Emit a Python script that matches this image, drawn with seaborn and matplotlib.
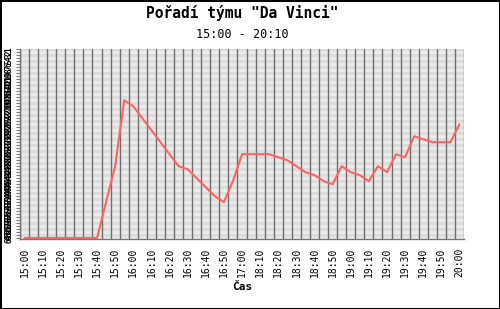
import numpy as np
import pandas as pd
import matplotlib
matplotlib.use("Agg")
import matplotlib.pyplot as plt
import seaborn as sns
from matplotlib.patches import Rectangle

# ---- data ----
times = ["15:00", "15:05", "15:10", "15:15", "15:20", "15:25", "15:30", "15:35",
         "15:40", "15:45", "15:50", "15:55", "16:00", "16:05", "16:10", "16:15",
         "16:20", "16:25", "16:30", "16:35", "16:40", "16:45", "16:50", "16:55",
         "17:00", "18:05", "18:10", "18:15", "18:20", "18:25", "18:30", "18:35",
         "18:40", "18:45", "18:50", "18:55", "19:00", "19:05", "19:10", "19:15",
         "19:20", "19:25", "19:30", "19:35", "19:40", "19:45", "19:50", "19:55",
         "20:00"]
ranks = [64, 64, 64, 64, 64, 64, 64, 64, 64, 52, 40, 18, 20, 24, 28, 32,
         36, 40, 41, 44, 47, 50, 52, 45, 36, 36, 36, 36, 37, 38, 40, 42,
         43, 45, 46, 40, 42, 43, 45, 40, 42, 36, 37, 30, 31, 32, 32, 32,
         26]
rank_levels = list(range(1, 65))
title = 'Pořadí týmu "Da Vinci"'
subtitle = "15:00 - 20:10"
xlabel = "Čas"

df = pd.DataFrame({"pos": np.arange(len(times)), "time": times, "rank": ranks})

sns.set_theme(style="white")
plt.rcParams["font.family"] = ["DejaVu Sans Mono", "DejaVu Sans"]
plt.rcParams["text.color"] = "black"
plt.rcParams["axes.labelcolor"] = "black"
plt.rcParams["xtick.labelcolor"] = "black"
plt.rcParams["ytick.labelcolor"] = "black"

fig = plt.figure(figsize=(5.0, 3.09), dpi=100)
ax = fig.add_axes([20 / 500, 1 - 239 / 309, 444 / 500, 190 / 309])

# background bands
band_cols = ["#ebebeb", "#dcdcdc"]
for r in rank_levels:
    ax.axhspan(r - 0.5, r + 0.5, color=band_cols[r % 2], lw=0, zorder=0)

sns.lineplot(data=df, x="pos", y="rank", ax=ax, color="#ff6262", lw=1.5,
             zorder=3, legend=False)

ax.set_xlim(-0.5, len(times) - 0.5)
ax.set_ylim(64.3, 0.9)

# x ticks
ax.set_xticks(df["pos"])
ax.set_xticklabels([t if i % 2 == 0 else "" for i, t in enumerate(times)],
                   rotation=90, fontsize=7)
ax.set_xticks(np.arange(-0.5, len(times)), minor=True)
ax.grid(which="minor", axis="x", color="#6e6e6e", lw=1.0, zorder=2)
ax.grid(which="major", visible=False)
ax.tick_params(axis="x", which="both", length=0, pad=6)

# y ticks (dense rank labels, as in the reference)
ax.set_yticks(rank_levels)
ax.set_yticklabels([str(r) for r in rank_levels], rotation=90, fontsize=5.5,
                   va="center", fontweight="bold")
ax.tick_params(axis="y", length=3, width=0.8, color="#777777", pad=1.5,
               left=True)

for s in ["top", "right"]:
    ax.spines[s].set_visible(False)
for s in ["left", "bottom"]:
    ax.spines[s].set_color("#777777")
    ax.spines[s].set_linewidth(1.0)

ax.set_xlabel(xlabel, fontsize=8, fontweight="bold", labelpad=4)
ax.set_ylabel("")

fig.text(242 / 500, 1 - 13 / 309, title, ha="center", va="center",
         fontsize=10.5, fontweight="bold")
fig.text(242 / 500, 1 - 34 / 309, subtitle, ha="center", va="center",
         fontsize=8.5)

fig.patches.append(Rectangle((0, 0), 1, 1, transform=fig.transFigure,
                             fill=False, ec="black", lw=2.2, zorder=10))

fig.savefig("out.png", dpi=100)
